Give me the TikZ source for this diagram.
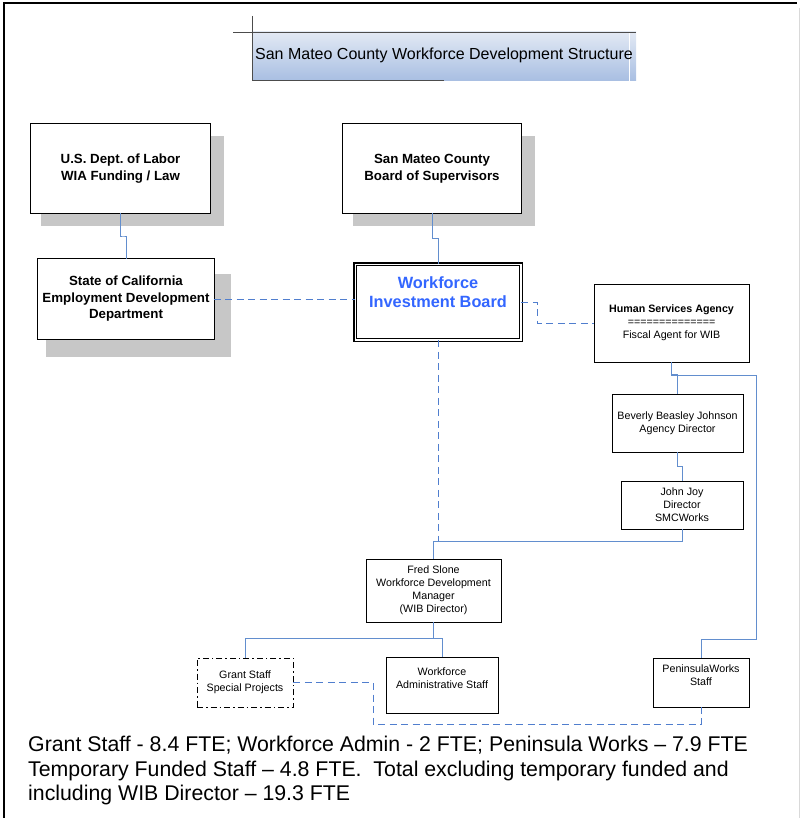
\documentclass[tikz,border=0pt]{standalone}
\usepackage{fontspec}
\setmainfont{Liberation Sans}
\usepackage{xcolor}
\usetikzlibrary{shadows,calc,positioning}

\definecolor{linkblue}{RGB}{98,142,206}
\definecolor{dashblue}{RGB}{80,126,206}
\definecolor{wibblue}{RGB}{51,102,255}
\definecolor{titletop}{RGB}{226,233,244}
\definecolor{titlebottom}{RGB}{168,190,226}

\tikzset{
  topbox/.style={draw,fill=white,double,double distance=2pt,line width=0.7pt,
    align=center,font=\bfseries\fontsize{13.3}{16.5}\selectfont},
  boxshadow/.style={drop shadow={shadow xshift=11.5pt,shadow yshift=-12.5pt,
    shadow scale=1.03,fill=black!22,opacity=1,#1}},
  boxshadow/.default={},
  wibbox/.style={draw,fill=white,double,double distance=1.6pt,line width=1.2pt,
    align=center,text=wibblue,font=\bfseries\fontsize{16.3}{19}\selectfont},
  staffbox/.style={draw,fill=white,line width=0.8pt,align=center,
    font=\fontsize{10.7}{13}\selectfont},
  link/.style={draw=linkblue,line width=0.9pt},
  dashlink/.style={draw=dashblue,line width=1pt,dash pattern=on 7pt off 4.5pt}
}

\begin{document}
\begin{tikzpicture}[x=1pt,y=-1pt]
\useasboundingbox (0,0) rectangle (800,818);

% Frame
\draw[line width=1.8pt] (4,818) -- (4,3) -- (797,3);
\draw[black!15,line width=1pt] (799,8) -- (799,818);

% Title
\shade[top color=titletop,bottom color=titlebottom] (252,32) rectangle (636,81);
\draw[white] (629.5,33) -- (629.5,81);
\draw[black!70] (233,32) -- (636,32);
\draw[black!70] (252,16) -- (252,81);
\draw[black!70,line width=1.2pt] (252,80.5) -- (444,80.5);
\node[font=\fontsize{16}{19}\selectfont] (title) at (444,55) {San Mateo County Workforce Development Structure};

% Boards
\node[topbox,boxshadow,minimum width=177.6pt,minimum height=87.6pt] (dol) at (120.5,168.5) {U.S. Dept.\ of Labor\\WIA Funding / Law};
\node[topbox,boxshadow,minimum width=176.6pt,minimum height=87.6pt] (bos) at (432,168.5) {San Mateo County\\Board of Supervisors};
\node[topbox,boxshadow={shadow yshift=-15.5pt,shadow scale=1.06},minimum width=174.6pt,minimum height=78.6pt] (edd) at (126,299) {State of California\\Employment Development\\Department};
\node[wibbox,minimum width=165.4pt,minimum height=75.4pt,text depth=20pt] (wib) at (438,302) {Workforce\\Investment Board};

% Agency side
\node[staffbox,minimum width=155pt,minimum height=78pt] (hsa) at (671.5,323) {\textbf{Human Services Agency}\\==============\\Fiscal Agent for WIB};
\node[staffbox,minimum width=131pt,minimum height=58pt] (bbj) at (677.5,423) {Beverly Beasley Johnson\\Agency Director};
\node[staffbox,minimum width=122pt,minimum height=48pt] (jj) at (682,505) {John Joy\\Director\\SMCWorks};
\node[staffbox,minimum width=135pt,minimum height=63pt] (fred) at (433.5,590.5) {Fred Slone\\Workforce Development\\Manager\\(WIB Director)};

% Staff
\node[staffbox,dash pattern=on 6pt off 3pt on 1.5pt off 3pt,minimum width=96pt,minimum height=49pt] (grant) at (245,682.5) {Grant Staff\\Special Projects};
\node[staffbox,minimum width=112pt,minimum height=56pt,text depth=14pt] (wfa) at (442,685) {Workforce\\Administrative Staff};
\node[staffbox,minimum width=96pt,minimum height=49pt,text depth=15pt] (pw) at (701,682.5) {PeninsulaWorks\\Staff};

% Links
\coordinate (fredbus) at ($(jj.south)+(0,12)$);
\coordinate (hsabus) at (756,375);
\draw[link] (dol.south) |- ($(dol.south)!.5!(edd.north)$) -| (edd.north);
\draw[link] (bos.south) |- ($(bos.south)!.5!(wib.north)$) -| (wib.north);
\draw[link] (hsa.south) |- ($(bbj.north)+(0,-19)$) -| (bbj.north);
\draw[link] (hsa.south) |- (hsabus) |- ($(pw.north)+(0,-18)$) -| (pw.north);
\draw[link] (bbj.south) |- ($(bbj.south)!.5!(jj.north)$) -| (jj.north);
\draw[link] (jj.south) |- (fredbus) -| (fred.north);
\draw[link] (fred.south) -- ++(0,16) coordinate (staffbus) -| (grant.north);
\draw[link] (staffbus) -| (wfa.north);
\draw[dashlink] (edd.east) -- (edd.east -| wib.west);
\draw[dashlink] (wib.east) -- ++(16,0) |- (hsa.west);
\draw[dashlink] (wib.south) -- (wib.south |- fredbus);
\draw[dashlink] (grant.east) -- ++(80,0) |- ($(pw.south)+(0,17)$) -| (pw.south);

% Totals
\node[anchor=north west,align=left,inner sep=0pt,font=\fontsize{21.3}{24.5}\selectfont] (totals) at (28,736) {Grant Staff - 8.4 FTE; Workforce Admin - 2 FTE; Peninsula Works – 7.9 FTE\\Temporary Funded Staff – 4.8 FTE.~ Total excluding temporary funded and\\including WIB Director – 19.3 FTE};
\end{tikzpicture}
\end{document}
